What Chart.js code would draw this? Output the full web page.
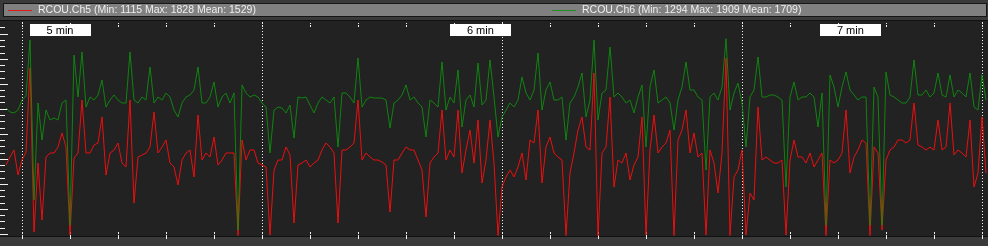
<!DOCTYPE html>
<html><head><meta charset="utf-8">
<script src="https://cdn.jsdelivr.net/npm/chart.js@4.4.1/dist/chart.umd.min.js"></script>
<style>html,body{margin:0;padding:0;background:#3a3a3a;overflow:hidden}canvas{display:block}</style>
</head><body>
<canvas id="c" width="988" height="246"></canvas>
<script>
const seriesNames = ['RCOU.Ch5 (Min: 1115 Max: 1828 Mean: 1529)', 'RCOU.Ch6 (Min: 1294 Max: 1909 Mean: 1709)'];
const ch5 = [
1400,1432,1460,1360,1420,1452,1788,1132,1408,1180,
1432,1448,1448,1472,1528,1472,1120,1428,1448,1660,
1448,1448,1480,1488,1592,1360,1448,1460,1488,1408,
1392,1660,1248,1432,1440,1448,1472,1612,1448,1472,
1500,1408,1392,1320,1420,1448,1460,1352,1600,1420,
1448,1432,1512,1400,1420,1448,1448,1448,1118,1500,
1420,1460,1460,1408,1400,1392,1120,1380,1420,1420,
1472,1440,1168,1400,1408,1420,1392,1408,1420,1460,
1488,1472,1448,1168,1460,1460,1472,1488,1660,1420,
1448,1432,1420,1420,1412,1400,1212,1420,1420,1448,
1472,1460,1460,1420,1380,1192,1408,1432,1448,1620,
1420,1460,1432,1620,1368,1460,1540,1408,1580,1328,
1420,1580,1408,1118,1312,1352,1380,1352,1392,1448,
1340,1500,1488,1620,1328,1472,1512,1448,1432,1420,
1118,1368,1448,1540,1592,1472,1460,1768,1115,1448,
1472,1672,1312,1420,1408,1448,1340,1400,1432,1592,
1120,1460,1600,1448,1472,1488,1540,1118,1500,1540,
1620,1448,1528,1432,1448,1120,1460,1408,1288,1448,
1828,1118,1352,1380,1460,1120,1288,1260,1632,1420,
1432,1420,1408,1408,1420,1120,1420,1500,1432,1432,
1408,1448,1392,1420,1448,1118,1420,1408,1420,1448,
1620,1368,1432,1460,1500,1488,1118,1472,1448,1140,
1420,1460,1472,1500,1500,1488,1500,1648,1480,1472,
1460,1472,1460,1580,1460,1472,1648,1440,1460,1448,
1432,1580,1312,1368,1592,1368
];
const ch6 = [
1701,1689,1686,1695,1725,1737,1905,1425,1716,1605,
1695,1665,1671,1665,1716,1725,1350,1860,1734,1869,
1704,1734,1725,1740,1785,1704,1725,1740,1725,1716,
1716,1869,1725,1716,1734,1725,1824,1716,1734,1725,
1746,1734,1695,1674,1716,1734,1740,1755,1824,1716,
1716,1734,1779,1704,1734,1746,1716,1746,1335,1770,
1746,1734,1740,1734,1716,1704,1566,1695,1704,1701,
1686,1710,1611,1734,1731,1734,1710,1686,1716,1734,
1725,1716,1734,1584,1746,1746,1734,1716,1851,1704,
1725,1734,1731,1731,1731,1725,1641,1716,1725,1740,
1770,1725,1734,1716,1704,1614,1725,1716,1704,1839,
1695,1734,1716,1815,1644,1725,1740,1704,1836,1710,
1725,1845,1734,1614,1674,1695,1716,1704,1725,1794,
1746,1725,1755,1866,1695,1755,1779,1725,1725,1734,
1605,1716,1734,1764,1806,1674,1725,1905,1665,1746,
1755,1884,1734,1746,1734,1716,1725,1686,1734,1770,
1584,1764,1815,1716,1725,1734,1716,1635,1725,1764,
1839,1755,1755,1734,1725,1515,1734,1746,1725,1764,
1909,1695,1746,1776,1716,1584,1734,1755,1854,1734,
1734,1740,1740,1734,1725,1464,1734,1779,1725,1734,
1734,1746,1734,1644,1746,1350,1800,1764,1704,1764,
1809,1755,1740,1725,1734,1734,1350,1764,1734,1350,
1809,1740,1734,1725,1716,1716,1734,1845,1740,1740,
1755,1734,1746,1806,1740,1734,1800,1734,1755,1746,
1734,1806,1704,1695,1800,1725
];
const timeLabels = ['5 min', '6 min', '7 min'];
const timeLabelAt = [13.5, 118.6, 211.1];
const majorAt = [4, 64, 124, 184, 244];
const minorStep = 12;

const toXY = arr => arr.map((v, i) => ({x: i, y: v}));

const deco = {
  id: 'deco',
  beforeDraw(chart) {
    const ctx = chart.ctx, a = chart.chartArea;
    ctx.save();
    ctx.fillStyle = '#3a3a3a';
    ctx.fillRect(0, 0, chart.width, chart.height);
    ctx.fillStyle = '#808080';
    ctx.fillRect(4, 4, 982, 12);
    ctx.strokeStyle = '#161616';
    ctx.lineWidth = 1;
    ctx.strokeRect(3.5, 3.5, 983, 13);
    const items = [{x: 8, color: '#e01818'}, {x: 552, color: '#1f8f1f'}];
    ctx.font = '10.5px "Liberation Sans", Arial, sans-serif';
    ctx.textBaseline = 'middle';
    items.forEach((it, k) => {
      ctx.strokeStyle = it.color;
      ctx.beginPath(); ctx.moveTo(it.x, 10.5); ctx.lineTo(it.x + 24, 10.5); ctx.stroke();
      ctx.fillStyle = '#eeeeee';
      ctx.fillText(chart.data.datasets[k].label, it.x + 30, 10.5);
    });
    ctx.fillStyle = '#222222';
    ctx.fillRect(a.left, a.top - 1, a.right - a.left, a.bottom - a.top + 1);
    ctx.strokeStyle = '#111111';
    ctx.beginPath(); ctx.moveTo(0, a.top - 1.5); ctx.lineTo(chart.width, a.top - 1.5); ctx.stroke();
    ctx.beginPath(); ctx.moveTo(0, a.bottom + 0.5); ctx.lineTo(chart.width, a.bottom + 0.5); ctx.stroke();
    ctx.restore();
  },
  beforeDatasetsDraw(chart) {
    const ctx = chart.ctx, a = chart.chartArea, xs = chart.scales.x, ys = chart.scales.y;
    ctx.save();
    ctx.strokeStyle = '#f0f0f0';
    ctx.lineWidth = 1;
    ctx.setLineDash([1, 2]);
    majorAt.forEach(m => {
      const px = Math.round(xs.getPixelForValue(m)) + 0.5;
      ctx.beginPath(); ctx.moveTo(px, a.top); ctx.lineTo(px, a.bottom); ctx.stroke();
    });
    ctx.setLineDash([]);
    for (let m = majorAt[0]; m <= xs.max; m += minorStep) {
      const px = Math.round(xs.getPixelForValue(m)) + 0.5;
      ctx.beginPath(); ctx.moveTo(px, a.top + 1); ctx.lineTo(px, a.top + 2); ctx.moveTo(px, a.top + 3); ctx.lineTo(px, a.top + 5); ctx.stroke();
      ctx.beginPath(); ctx.moveTo(px, a.bottom - 4); ctx.lineTo(px, a.bottom - 2); ctx.moveTo(px, a.bottom - 1); ctx.lineTo(px, a.bottom + 3); ctx.stroke();
    }
    let n = 0;
    for (let v = 1125; v <= 1960; v += 25, n++) {
      const py = Math.round(ys.getPixelForValue(v)) + 0.5;
      ctx.beginPath(); ctx.moveTo(0, py); ctx.lineTo(n % 4 === 0 ? 8 : 5, py); ctx.stroke();
    }
    ctx.restore();
  },
  afterDatasetsDraw(chart) {
    const ctx = chart.ctx, a = chart.chartArea, xs = chart.scales.x;
    ctx.save();
    ctx.font = '11px "Liberation Sans", Arial, sans-serif';
    ctx.textAlign = 'center';
    ctx.textBaseline = 'middle';
    timeLabels.forEach((t, k) => {
      const cx = xs.getPixelForValue(timeLabelAt[k]);
      ctx.fillStyle = '#ffffff';
      ctx.fillRect(Math.round(cx - 30.5), a.top + 2, 61, 12);
      ctx.fillStyle = '#000000';
      ctx.fillText(t, cx, a.top + 8.5);
    });
    ctx.restore();
  }
};

new Chart(document.getElementById('c'), {
  type: 'line',
  data: {
    datasets: [
      {label: seriesNames[0], data: toXY(ch5), yAxisID: 'y', borderColor: 'rgba(245,14,14,0.95)', borderWidth: 1, pointRadius: 0, tension: 0, order: 2},
      {label: seriesNames[1], data: toXY(ch6), yAxisID: 'y2', borderColor: 'rgba(12,148,12,0.85)', borderWidth: 1, pointRadius: 0, tension: 0, order: 1}
    ]
  },
  options: {
    responsive: false,
    animation: false,
    events: [],
    layout: {padding: {top: 22, bottom: 10, left: 0, right: 0}},
    plugins: {legend: {display: false}, tooltip: {enabled: false}},
    scales: {
      x: {type: 'linear', display: false, min: -1.5, max: 245.5},
      y: {type: 'linear', display: false, min: 1116, max: 1972},
      y2: {type: 'linear', display: false, min: 1317, max: 1959}
    }
  },
  plugins: [deco]
});
</script>
</body></html>
